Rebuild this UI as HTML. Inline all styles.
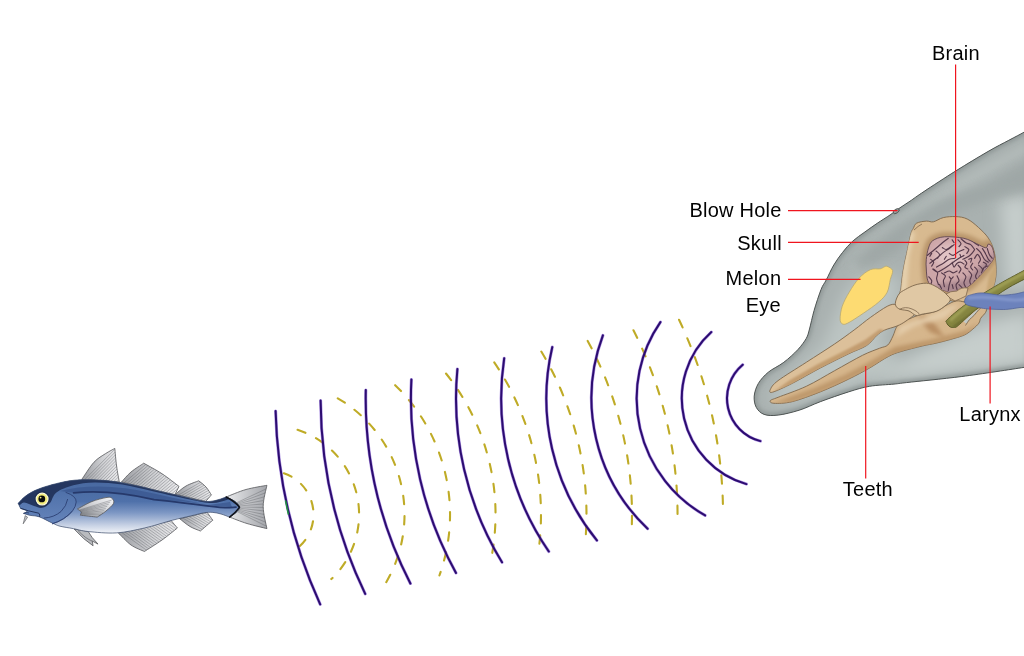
<!DOCTYPE html>
<html><head><meta charset="utf-8"><title>Echolocation</title>
<style>html,body{margin:0;padding:0;background:#fff}svg{display:block}</style></head>
<body><svg width="1024" height="656" viewBox="0 0 1024 656">
<rect width="1024" height="656" fill="#fff"/>
<g fill="none" stroke-linecap="round">
<path d="M283.1 473.0 A43.5 43.5 0 0 1 299.9 546.1 M296.8 429.6 A89.0 89.0 0 0 1 331.3 579.1 M337.1 397.9 A134.5 134.5 0 0 1 382.2 588.7 M394.6 384.6 A180.0 180.0 0 0 1 439.4 575.5 M445.5 372.9 A225.5 225.5 0 0 1 490.1 563.8 M493.8 361.7 A271.0 271.0 0 0 1 538.3 552.6 M540.9 350.9 A316.5 316.5 0 0 1 585.3 541.8 M587.3 340.2 A362.0 362.0 0 0 1 631.6 531.1 M633.1 329.6 A407.5 407.5 0 0 1 677.5 520.5 M678.7 319.1 A453.0 453.0 0 0 1 723.0 510.0" stroke="#bfab26" stroke-width="2.1" stroke-dasharray="8.4 11.85" stroke-dashoffset="-0.8" stroke-linecap="round"/>
<path d="M760.4 441.1 A44.0 44.0 0 0 1 742.7 364.7 M746.4 484.1 A89.2 89.2 0 0 1 711.3 332.1 M705.1 515.4 A134.3 134.3 0 0 1 660.4 322.1 M647.6 528.7 A179.5 179.5 0 0 1 602.9 335.4 M596.9 540.4 A224.6 224.6 0 0 1 552.3 347.1 M548.8 551.5 A269.8 269.8 0 0 1 504.2 358.2 M502.0 562.3 A315.0 315.0 0 0 1 457.4 369.0 M456.0 572.9 A360.1 360.1 0 0 1 411.4 379.6 M410.4 583.5 A405.3 405.3 0 0 1 365.8 390.1 M365.2 593.9 A450.4 450.4 0 0 1 320.6 400.6 M320.2 604.3 A495.6 495.6 0 0 1 275.6 411.0" stroke="#7a4fd0" stroke-width="3.1" opacity=".6"/>
<path d="M760.4 441.1 A44.0 44.0 0 0 1 742.7 364.7 M746.4 484.1 A89.2 89.2 0 0 1 711.3 332.1 M705.1 515.4 A134.3 134.3 0 0 1 660.4 322.1 M647.6 528.7 A179.5 179.5 0 0 1 602.9 335.4 M596.9 540.4 A224.6 224.6 0 0 1 552.3 347.1 M548.8 551.5 A269.8 269.8 0 0 1 504.2 358.2 M502.0 562.3 A315.0 315.0 0 0 1 457.4 369.0 M456.0 572.9 A360.1 360.1 0 0 1 411.4 379.6 M410.4 583.5 A405.3 405.3 0 0 1 365.8 390.1 M365.2 593.9 A450.4 450.4 0 0 1 320.6 400.6 M320.2 604.3 A495.6 495.6 0 0 1 275.6 411.0" stroke="#2c0c70" stroke-width="2.0"/>
<path d="M285.6 501 L288.3 514" stroke="#1f9a3a" stroke-width="1.4"/>
</g>
<defs>
<linearGradient id="fb" x1="0" y1="478" x2="0" y2="534" gradientUnits="userSpaceOnUse"><stop offset="0" stop-color="#48689f"/><stop offset=".42" stop-color="#4f71aa"/><stop offset=".62" stop-color="#7d97c4"/><stop offset=".85" stop-color="#c9d3e5"/><stop offset="1" stop-color="#f6f8fb"/></linearGradient>
<linearGradient id="ff" x1="0" y1="0" x2="1" y2="0"><stop offset="0" stop-color="#989a9f"/><stop offset=".55" stop-color="#cfd0d3"/><stop offset="1" stop-color="#ececee"/></linearGradient>
<linearGradient id="ff2" x1="0" y1="0" x2="1" y2="0"><stop offset="0" stop-color="#e9eaec"/><stop offset="1" stop-color="#a4a6ab"/></linearGradient>
<linearGradient id="fh" x1="0" y1="485" x2="0" y2="525" gradientUnits="userSpaceOnUse"><stop offset="0" stop-color="#4b6da6"/><stop offset="1" stop-color="#6685bb"/></linearGradient>
<linearGradient id="ff3" x1="0" y1="1" x2="1" y2="0"><stop offset="0" stop-color="#97999e"/><stop offset=".6" stop-color="#d9dadd"/><stop offset="1" stop-color="#f4f4f6"/></linearGradient>
<clipPath id="cfb"><path d="M18.2 503.3C19.5 502.1 22.7 498.2 26.0 495.8C29.3 493.4 32.6 491.4 38.1 489.2C43.6 487.0 52.2 484.5 59.2 482.9C66.2 481.3 72.1 480.1 80.3 479.8C88.5 479.5 99.1 479.8 108.5 480.8C117.9 481.8 129.0 484.2 136.6 485.7C144.2 487.2 147.4 488.4 154.0 489.9C160.6 491.4 168.5 493.1 176.2 494.9C183.9 496.7 194.4 499.5 200.0 500.6C205.6 501.7 207.0 501.5 210.0 501.4C213.0 501.3 215.3 500.5 218.0 499.8C220.7 499.1 224.8 497.5 226.1 497.0C227.6 497.8 232.8 499.8 235.0 501.5C237.2 503.2 239.3 505.4 239.5 507.2C239.7 509.0 237.7 510.9 236.0 512.5C234.3 514.1 230.7 516.3 229.6 517.1C228.2 516.6 223.8 514.8 221.0 514.0C218.2 513.2 215.6 512.6 212.8 512.4C210.0 512.2 207.8 512.2 204.0 512.8C200.2 513.4 195.6 514.8 190.3 516.0C185.1 517.2 180.2 518.2 172.5 520.2C164.8 522.2 153.8 525.9 144.4 528.0C135.0 530.1 125.7 532.3 116.3 532.9C106.9 533.5 95.3 532.2 88.1 531.5C80.9 530.8 78.0 529.5 73.3 528.6C68.6 527.7 63.5 527.1 60.0 526.2C56.5 525.3 55.6 524.5 52.2 523.0C48.8 521.5 43.2 518.2 39.5 516.9C35.8 515.6 32.7 515.9 30.0 515.3C27.3 514.7 24.6 513.7 23.5 513.4C24.1 513.0 27.5 511.9 27.0 511.0C26.5 510.1 21.6 508.8 20.5 508.3C20.1 507.5 18.6 504.1 18.2 503.3Z"/></clipPath>
</defs>
<path d="M81.7 479.5C83.8 476.6 90.0 466.5 94.0 462.2C98.0 457.9 102.1 455.9 105.6 453.6C109.1 451.3 113.3 449.3 114.8 448.4C115.1 451.3 115.8 460.4 116.6 466.0C117.3 471.6 118.8 479.3 119.3 482.0C113.0 481.6 88.0 479.9 81.7 479.5Z" fill="url(#ff)" stroke="#55575b" stroke-width=".8" stroke-linejoin="round"/>
<clipPath id="f1"><path d="M81.7 479.5C83.8 476.6 90.0 466.5 94.0 462.2C98.0 457.9 102.1 455.9 105.6 453.6C109.1 451.3 113.3 449.3 114.8 448.4C115.1 451.3 115.8 460.4 116.6 466.0C117.3 471.6 118.8 479.3 119.3 482.0C113.0 481.6 88.0 479.9 81.7 479.5Z"/></clipPath>
<path d="M76.2 488.1 L118.5 445.6 M77.8 489.7 L120.1 447.1 M79.3 491.2 L121.6 448.7 M80.9 492.8 L123.2 450.2 M82.5 494.3 L124.7 451.8 M84.0 495.9 L126.3 453.3 M85.6 497.4 L127.9 454.9 M87.1 499.0 L129.4 456.4 M88.7 500.5 L131.0 458.0 M90.3 502.1 L132.5 459.5 M91.8 503.6 L134.1 461.1 M93.4 505.2 L135.7 462.6" fill="none" stroke="#5c5e63" stroke-width=".55" opacity=".7" clip-path="url(#f1)"/>
<path d="M121.5 482.0C123.1 480.3 127.3 475.1 131.0 472.0C134.7 468.9 141.6 464.7 143.7 463.2C146.8 465.0 156.2 469.9 162.1 473.8C168.0 477.7 176.2 484.3 179.0 486.4C178.3 487.8 175.5 493.6 174.8 495.0C165.9 492.8 130.4 484.2 121.5 482.0Z" fill="url(#ff)" stroke="#55575b" stroke-width=".8" stroke-linejoin="round"/>
<clipPath id="f2"><path d="M121.5 482.0C123.1 480.3 127.3 475.1 131.0 472.0C134.7 468.9 141.6 464.7 143.7 463.2C146.8 465.0 156.2 469.9 162.1 473.8C168.0 477.7 176.2 484.3 179.0 486.4C178.3 487.8 175.5 493.6 174.8 495.0C165.9 492.8 130.4 484.2 121.5 482.0Z"/></clipPath>
<path d="M115.4 490.2 L161.1 451.4 M116.8 492.0 L162.6 453.2 M118.3 493.7 L164.1 455.0 M119.8 495.5 L165.6 456.7 M121.3 497.2 L167.1 458.5 M122.8 499.0 L168.6 460.2 M124.3 500.7 L170.1 462.0 M125.8 502.5 L171.5 463.7 M127.2 504.3 L173.0 465.5 M128.7 506.0 L174.5 467.2 M130.2 507.8 L176.0 469.0 M131.7 509.5 L177.5 470.7 M133.2 511.3 L179.0 472.5 M134.7 513.0 L180.5 474.3 M136.2 514.8 L182.0 476.0 M137.7 516.5 L183.4 477.8 M139.1 518.3 L184.9 479.5 M140.6 520.1 L186.4 481.3" fill="none" stroke="#5c5e63" stroke-width=".55" opacity=".7" clip-path="url(#f2)"/>
<path d="M175.3 494.3C177.1 492.9 182.1 488.2 186.0 486.0C189.9 483.8 196.6 481.7 198.7 480.8C199.9 481.8 203.9 484.6 206.0 487.0C208.1 489.4 210.5 493.6 211.4 494.9C210.4 496.0 206.6 500.4 205.7 501.5C200.6 500.3 180.4 495.5 175.3 494.3Z" fill="url(#ff)" stroke="#55575b" stroke-width=".8" stroke-linejoin="round"/>
<clipPath id="f3"><path d="M175.3 494.3C177.1 492.9 182.1 488.2 186.0 486.0C189.9 483.8 196.6 481.7 198.7 480.8C199.9 481.8 203.9 484.6 206.0 487.0C208.1 489.4 210.5 493.6 211.4 494.9C210.4 496.0 206.6 500.4 205.7 501.5C200.6 500.3 180.4 495.5 175.3 494.3Z"/></clipPath>
<path d="M167.7 501.2 L219.7 471.2 M168.8 503.1 L220.8 473.1 M169.9 505.0 L221.9 475.0 M171.0 506.9 L223.0 476.9 M172.1 508.8 L224.1 478.8 M173.2 510.7 L225.2 480.7 M174.3 512.6 L226.3 482.7 M175.4 514.5 L227.4 484.6 M176.5 516.4 L228.5 486.5 M177.6 518.4 L229.6 488.4" fill="none" stroke="#5c5e63" stroke-width=".55" opacity=".7" clip-path="url(#f3)"/>
<path d="M118.4 533.0C120.5 535.0 126.7 541.9 131.0 545.0C135.3 548.1 142.2 550.4 144.4 551.5C147.3 549.6 156.5 543.9 162.0 540.0C167.5 536.1 174.8 530.0 177.4 528.0C176.3 526.8 172.2 521.8 171.1 520.5C162.3 522.6 127.2 530.9 118.4 533.0Z" fill="url(#ff)" stroke="#55575b" stroke-width=".8" stroke-linejoin="round"/>
<clipPath id="f4"><path d="M118.4 533.0C120.5 535.0 126.7 541.9 131.0 545.0C135.3 548.1 142.2 550.4 144.4 551.5C147.3 549.6 156.5 543.9 162.0 540.0C167.5 536.1 174.8 530.0 177.4 528.0C176.3 526.8 172.2 521.8 171.1 520.5C162.3 522.6 127.2 530.9 118.4 533.0Z"/></clipPath>
<path d="M111.6 525.3 L160.5 560.1 M112.9 523.5 L161.8 558.2 M114.3 521.6 L163.1 556.4 M115.6 519.7 L164.5 554.5 M116.9 517.8 L165.8 552.6 M118.3 516.0 L167.1 550.7 M119.6 514.1 L168.5 548.9 M120.9 512.2 L169.8 547.0 M122.3 510.3 L171.1 545.1 M123.6 508.5 L172.5 543.2 M124.9 506.6 L173.8 541.4 M126.3 504.7 L175.1 539.5 M127.6 502.8 L176.5 537.6 M128.9 501.0 L177.8 535.8 M130.3 499.1 L179.1 533.9 M131.6 497.2 L180.5 532.0 M132.9 495.3 L181.8 530.1 M134.3 493.5 L183.1 528.3" fill="none" stroke="#5c5e63" stroke-width=".55" opacity=".7" clip-path="url(#f4)"/>
<path d="M179.5 518.6C181.2 519.9 186.5 524.4 190.0 526.5C193.5 528.6 198.7 530.2 200.4 531.0C202.5 529.2 210.7 522.0 212.8 520.2C211.8 518.9 208.0 513.5 207.0 512.2C202.4 513.3 184.1 517.5 179.5 518.6Z" fill="url(#ff)" stroke="#55575b" stroke-width=".8" stroke-linejoin="round"/>
<clipPath id="f5"><path d="M179.5 518.6C181.2 519.9 186.5 524.4 190.0 526.5C193.5 528.6 198.7 530.2 200.4 531.0C202.5 529.2 210.7 522.0 212.8 520.2C211.8 518.9 208.0 513.5 207.0 512.2C202.4 513.3 184.1 517.5 179.5 518.6Z"/></clipPath>
<path d="M172.0 511.6 L223.6 542.2 M173.1 509.7 L224.7 540.3 M174.3 507.8 L225.9 538.4 M175.4 505.9 L227.0 536.5 M176.5 504.0 L228.1 534.7 M177.6 502.1 L229.2 532.8 M178.8 500.3 L230.4 530.9 M179.9 498.4 L231.5 529.0 M181.0 496.5 L232.6 527.1 M182.1 494.6 L233.7 525.2" fill="none" stroke="#5c5e63" stroke-width=".55" opacity=".7" clip-path="url(#f5)"/>
<path d="M74.1 529 Q84 540 93.1 545.8 L92.2 541 L98 544.1 Q91 537 88.1 531.3Z" fill="#b9bbbf" stroke="#55575b" stroke-width=".8" stroke-linejoin="round"/>
<path d="M78 530.5 Q86 539 92.2 541" fill="none" stroke="#55575b" stroke-width=".6"/>
<path d="M226.1 497.0C229.4 495.8 239.2 491.4 246.0 489.5C252.8 487.6 263.4 486.0 266.9 485.3C266.3 488.8 263.2 499.3 263.2 506.5C263.2 513.7 266.3 524.9 266.9 528.6C263.6 527.8 253.2 525.4 247.0 523.5C240.8 521.6 232.5 518.2 229.6 517.1C230.7 516.3 234.3 514.1 236.0 512.5C237.7 510.9 239.7 509.0 239.5 507.2C239.3 505.4 237.2 503.2 235.0 501.5C232.8 499.8 227.6 497.8 226.1 497.0Z" fill="url(#ff2)" stroke="#55575b" stroke-width=".8" stroke-linejoin="round"/>
<clipPath id="f6"><path d="M226.1 497.0C229.4 495.8 239.2 491.4 246.0 489.5C252.8 487.6 263.4 486.0 266.9 485.3C266.3 488.8 263.2 499.3 263.2 506.5C263.2 513.7 266.3 524.9 266.9 528.6C263.6 527.8 253.2 525.4 247.0 523.5C240.8 521.6 232.5 518.2 229.6 517.1C230.7 516.3 234.3 514.1 236.0 512.5C237.7 510.9 239.7 509.0 239.5 507.2C239.3 505.4 237.2 503.2 235.0 501.5C232.8 499.8 227.6 497.8 226.1 497.0Z"/></clipPath>
<path d="M236.0 503.0 L268.0 488.0 M236.0 503.8 L268.0 491.9 M236.0 504.6 L268.0 495.8 M236.0 505.4 L268.0 499.7 M236.0 506.2 L268.0 503.6 M236.0 507.0 L268.0 507.5 M236.0 507.8 L268.0 511.4 M236.0 508.6 L268.0 515.3 M236.0 509.4 L268.0 519.2 M236.0 510.2 L268.0 523.1 M236.0 511.0 L268.0 527.0" fill="none" stroke="#5c5e63" stroke-width=".55" opacity=".7" clip-path="url(#f6)"/>
<path d="M25.2 515.6 L23.2 523.8 L27.6 517.2Z" fill="#bfc1c5" stroke="#55575b" stroke-width=".6"/>
<path d="M18.2 503.3C19.5 502.1 22.7 498.2 26.0 495.8C29.3 493.4 32.6 491.4 38.1 489.2C43.6 487.0 52.2 484.5 59.2 482.9C66.2 481.3 72.1 480.1 80.3 479.8C88.5 479.5 99.1 479.8 108.5 480.8C117.9 481.8 129.0 484.2 136.6 485.7C144.2 487.2 147.4 488.4 154.0 489.9C160.6 491.4 168.5 493.1 176.2 494.9C183.9 496.7 194.4 499.5 200.0 500.6C205.6 501.7 207.0 501.5 210.0 501.4C213.0 501.3 215.3 500.5 218.0 499.8C220.7 499.1 224.8 497.5 226.1 497.0C227.6 497.8 232.8 499.8 235.0 501.5C237.2 503.2 239.3 505.4 239.5 507.2C239.7 509.0 237.7 510.9 236.0 512.5C234.3 514.1 230.7 516.3 229.6 517.1C228.2 516.6 223.8 514.8 221.0 514.0C218.2 513.2 215.6 512.6 212.8 512.4C210.0 512.2 207.8 512.2 204.0 512.8C200.2 513.4 195.6 514.8 190.3 516.0C185.1 517.2 180.2 518.2 172.5 520.2C164.8 522.2 153.8 525.9 144.4 528.0C135.0 530.1 125.7 532.3 116.3 532.9C106.9 533.5 95.3 532.2 88.1 531.5C80.9 530.8 78.0 529.5 73.3 528.6C68.6 527.7 63.5 527.1 60.0 526.2C56.5 525.3 55.6 524.5 52.2 523.0C48.8 521.5 43.2 518.2 39.5 516.9C35.8 515.6 32.7 515.9 30.0 515.3C27.3 514.7 24.6 513.7 23.5 513.4C24.1 513.0 27.5 511.9 27.0 511.0C26.5 510.1 21.6 508.8 20.5 508.3C20.1 507.5 18.6 504.1 18.2 503.3Z" fill="url(#fb)"/>
<g clip-path="url(#cfb)">
<path d="M10 470 L66 470 L65.6 492.3 Q76.5 496 76.2 502 Q75.5 511 63.4 518.8 Q58 522 52.2 523.7 L40 535 L10 535Z" fill="url(#fh)"/>
<path d="M16.0 504.0C18.3 509.4 21.0 502.3 24.0 502.6C27.0 502.9 30.9 505.1 34.0 506.0C37.0 506.9 39.6 508.3 42.3 507.8C45.0 507.3 47.6 505.6 50.0 503.0C52.4 500.4 52.5 495.4 56.4 492.5C60.3 489.6 67.0 487.0 73.3 485.3C79.6 483.6 86.2 482.5 94.4 482.4C102.6 482.3 112.6 483.0 122.5 484.5C132.4 486.0 142.8 489.0 154.0 491.5C165.2 494.0 180.3 497.6 190.0 499.5C199.7 501.4 205.7 503.0 212.0 503.0C218.3 503.0 223.3 501.0 228.0 499.5C232.7 498.0 238.0 498.9 240.0 494.0C242.0 489.1 278.3 474.0 240.0 470.0C201.7 466.0 47.3 464.3 10.0 470.0C-27.3 475.7 13.7 498.6 16.0 504.0Z" fill="#24365f"/>
<path d="M60 491 Q100 481 154 493.5 T212 504.5 L230 502 L232 507 Q215 506.5 200 503.5 Q170 500 154 499.6 Q110 489 73.3 492.7 Z" fill="#3c5992" opacity=".85"/>
<path d="M73.6 492.9 Q110 489.2 154 499.7 Q185 503 207 505.8 T236 507.2" fill="none" stroke="#26396b" stroke-width="1.7" stroke-linecap="round"/>
</g>
<path d="M18.2 503.3C19.5 502.1 22.7 498.2 26.0 495.8C29.3 493.4 32.6 491.4 38.1 489.2C43.6 487.0 52.2 484.5 59.2 482.9C66.2 481.3 72.1 480.1 80.3 479.8C88.5 479.5 99.1 479.8 108.5 480.8C117.9 481.8 129.0 484.2 136.6 485.7C144.2 487.2 147.4 488.4 154.0 489.9C160.6 491.4 168.5 493.1 176.2 494.9C183.9 496.7 194.4 499.5 200.0 500.6C205.6 501.7 207.0 501.5 210.0 501.4C213.0 501.3 215.3 500.5 218.0 499.8C220.7 499.1 224.8 497.5 226.1 497.0C227.6 497.8 232.8 499.8 235.0 501.5C237.2 503.2 239.3 505.4 239.5 507.2C239.7 509.0 237.7 510.9 236.0 512.5C234.3 514.1 230.7 516.3 229.6 517.1C228.2 516.6 223.8 514.8 221.0 514.0C218.2 513.2 215.6 512.6 212.8 512.4C210.0 512.2 207.8 512.2 204.0 512.8C200.2 513.4 195.6 514.8 190.3 516.0C185.1 517.2 180.2 518.2 172.5 520.2C164.8 522.2 153.8 525.9 144.4 528.0C135.0 530.1 125.7 532.3 116.3 532.9C106.9 533.5 95.3 532.2 88.1 531.5C80.9 530.8 78.0 529.5 73.3 528.6C68.6 527.7 63.5 527.1 60.0 526.2C56.5 525.3 55.6 524.5 52.2 523.0C48.8 521.5 43.2 518.2 39.5 516.9C35.8 515.6 32.7 515.9 30.0 515.3C27.3 514.7 24.6 513.7 23.5 513.4C24.1 513.0 27.5 511.9 27.0 511.0C26.5 510.1 21.6 508.8 20.5 508.3C20.1 507.5 18.6 504.1 18.2 503.3Z" fill="none" stroke="#3b4a6a" stroke-width=".7"/>
<path d="M226.1 497 Q235 501.5 239.5 507.2 Q236 512.5 229.6 517.1" fill="none" stroke="#0f1118" stroke-width="1.5" stroke-linecap="round"/>
<path d="M65.6 492.3 Q76.5 496 76.2 502 Q75.5 511 63.4 518.8 Q58 522 52.2 523.7" fill="none" stroke="#2c4174" stroke-width=".9"/>
<path d="M67.7 499 Q66.5 506 61 511.5 Q54 517.5 43.8 518.1" fill="none" stroke="#2c4174" stroke-width=".9"/>
<path d="M52 524 Q64 520.5 72.5 511" fill="none" stroke="#2c4174" stroke-width=".7"/>
<path d="M20.5 508.3 Q27 510.8 38.8 513.2 Q40.5 515 39.5 516.9" fill="none" stroke="#22335c" stroke-width="1"/>
<path d="M23.5 513.4 Q27.5 512 29 513" fill="none" stroke="#22335c" stroke-width=".8"/>
<path d="M77.5 508.9C79.9 507.7 87.2 503.4 92.0 501.5C96.8 499.6 102.7 498.2 106.0 497.6C109.3 497.0 110.3 497.1 111.6 498.0C112.9 498.9 114.5 501.1 113.6 503.3C112.7 505.5 108.7 508.7 106.0 511.0C103.3 513.3 98.7 516.1 97.2 517.1C94.4 516.8 83.1 515.5 80.3 515.2C80.5 514.7 81.3 512.5 81.5 512.0C80.8 511.5 78.2 509.4 77.5 508.9Z" fill="url(#ff3)" stroke="#55575b" stroke-width=".8" stroke-linejoin="round"/>
<clipPath id="f7"><path d="M77.5 508.9C79.9 507.7 87.2 503.4 92.0 501.5C96.8 499.6 102.7 498.2 106.0 497.6C109.3 497.0 110.3 497.1 111.6 498.0C112.9 498.9 114.5 501.1 113.6 503.3C112.7 505.5 108.7 508.7 106.0 511.0C103.3 513.3 98.7 516.1 97.2 517.1C94.4 516.8 83.1 515.5 80.3 515.2C80.5 514.7 81.3 512.5 81.5 512.0C80.8 511.5 78.2 509.4 77.5 508.9Z"/></clipPath>
<path d="M79.2 510.1 L111.6 500.1 M79.4 510.7 L110.1 502.2 M79.7 511.3 L108.7 504.3 M79.9 511.9 L107.2 506.4 M80.1 512.6 L105.8 508.6 M80.3 513.2 L104.3 510.7 M80.6 513.8 L102.9 512.8 M80.8 514.4 L101.4 514.9" fill="none" stroke="#5c5e63" stroke-width=".55" opacity=".7" clip-path="url(#f7)"/>
<circle cx="42.1" cy="499.1" r="7.6" fill="#1d2c50"/>
<circle cx="42.1" cy="499.1" r="5.9" fill="#f3ec7a"/>
<circle cx="42.1" cy="499.1" r="5.9" fill="none" stroke="#fbf9d8" stroke-width="1.2"/>
<circle cx="41.8" cy="498.9" r="3.4" fill="#0b0b0b"/>
<circle cx="40.6" cy="497.6" r=".9" fill="#f3ec7a"/>
<defs>
<clipPath id="cb"><path d="M1030.0 128.5C1029.0 129.1 1027.5 130.2 1024.0 132.2C1020.5 134.2 1014.8 137.1 1008.8 140.3C1002.8 143.5 996.8 146.4 988.0 151.5C979.2 156.6 966.7 164.1 956.0 170.8C945.3 177.5 931.7 186.4 924.0 191.5C916.3 196.6 914.2 198.3 910.0 201.2C905.8 204.0 902.1 206.3 898.8 208.6C895.4 210.9 893.5 212.6 890.0 215.0C886.5 217.4 881.7 220.3 877.5 223.1C873.3 225.9 869.2 228.9 865.0 231.9C860.8 234.9 856.2 237.9 852.5 241.3C848.8 244.7 845.6 248.6 842.5 252.5C839.4 256.4 836.5 260.4 833.8 265.0C831.0 269.6 828.4 275.9 826.2 280.0C824.1 284.1 823.1 284.3 821.1 289.4C819.1 294.5 816.0 303.9 814.1 310.5C812.2 317.1 810.8 324.4 809.5 329.0C808.2 333.6 808.2 334.9 806.3 338.4C804.3 341.8 801.5 345.7 797.8 349.7C794.0 353.7 788.7 358.6 783.8 362.3C778.9 366.1 772.5 368.7 768.3 372.2C764.1 375.7 760.8 379.4 758.4 383.4C756.0 387.4 754.6 392.1 754.2 396.1C753.9 400.1 754.6 404.3 756.3 407.4C757.9 410.4 760.5 413.1 764.1 414.4C767.7 415.7 772.2 415.8 778.1 415.1C784.0 414.4 792.2 412.4 799.2 410.2C806.2 408.0 812.1 404.8 820.3 401.7C828.5 398.6 840.3 394.5 848.5 391.9C856.7 389.3 862.0 387.6 869.6 386.3C877.2 385.0 887.9 384.7 894.0 384.1C900.1 383.5 895.1 383.9 906.4 382.6C917.7 381.3 942.2 379.0 961.8 376.5C981.4 374.0 1012.6 369.1 1024.0 367.4C1035.4 365.7 1029.0 366.6 1030.0 366.5Z"/></clipPath>
<clipPath id="cbr"><path d="M926.3 259.3C926.7 255.8 927.4 251.1 928.5 248.0C929.6 244.9 930.1 242.6 932.7 240.7C935.4 238.8 939.2 237.2 944.4 236.8C949.6 236.4 958.5 237.2 963.9 238.3C969.3 239.5 973.0 242.1 976.6 243.7C980.2 245.3 983.9 247.7 985.8 247.8C987.7 247.9 987.2 244.5 988.2 244.2C989.2 243.9 990.6 244.7 991.5 246.0C992.4 247.3 993.2 249.9 993.6 252.0C994.0 254.1 994.6 256.0 993.7 258.3C992.8 260.7 990.2 263.7 988.3 266.1C986.4 268.5 985.3 269.8 982.4 272.9C979.5 276.0 973.8 282.0 970.7 284.6C967.6 287.2 967.0 287.2 963.9 288.5C960.8 289.8 955.5 291.9 952.2 292.2C949.0 292.5 947.6 291.5 944.4 290.5C941.1 289.5 935.5 287.7 932.7 286.1C929.9 284.5 928.9 283.6 927.8 280.7C926.7 277.8 926.5 272.6 926.3 269.0C926.0 265.4 925.9 262.8 926.3 259.3Z"/></clipPath>
<clipPath id="ccr"><path d="M901.0 300.0C897.0 297.5 900.7 292.1 901.1 287.2C901.5 282.2 902.3 275.9 903.2 270.3C904.1 264.7 905.4 259.5 906.7 253.4C908.0 247.3 909.8 237.9 910.9 233.8C912.0 229.7 912.2 230.4 913.2 228.6C914.2 226.8 914.4 224.4 916.6 223.2C918.8 221.9 923.6 221.3 926.4 221.1C929.2 220.9 930.6 222.4 933.4 221.8C936.2 221.2 939.5 218.5 943.3 217.6C947.0 216.7 951.9 216.4 955.9 216.6C959.9 216.8 963.5 217.2 967.2 219.0C971.0 220.8 974.9 224.2 978.4 227.4C981.9 230.6 985.7 234.1 988.3 238.0C990.9 241.9 992.6 245.9 993.9 250.6C995.2 255.3 995.8 261.2 996.0 266.1C996.2 271.0 996.3 275.9 995.3 280.2C994.3 284.5 993.4 288.7 990.0 292.0C986.6 295.3 980.0 298.3 975.0 300.0C970.0 301.7 965.0 302.0 960.0 302.0C955.0 302.0 950.8 300.0 945.0 300.0C939.2 300.0 932.3 302.0 925.0 302.0C917.7 302.0 905.0 302.5 901.0 300.0Z"/></clipPath>
<clipPath id="cma"><path d="M770.4 400.6C771.1 399.6 772.1 399.7 778.1 397.3C784.1 394.9 796.9 390.7 806.3 386.3C815.7 381.9 825.0 376.0 834.4 370.8C843.8 365.6 855.0 359.1 862.5 355.3C870.0 351.6 875.2 350.0 879.4 348.3C883.6 346.6 885.5 347.1 887.8 345.0C890.1 342.9 891.2 339.4 893.0 336.0C894.8 332.6 895.2 327.6 898.5 324.5C901.8 321.4 908.6 319.2 912.5 317.5C916.4 315.8 918.0 315.5 922.0 314.5C926.0 313.5 932.3 312.8 936.3 311.3C940.3 309.8 942.7 307.2 946.0 305.5C949.3 303.8 952.9 301.6 956.0 301.0C959.1 300.4 961.7 301.5 964.4 302.0C967.1 302.5 968.9 303.3 972.0 304.0C975.1 304.7 980.8 305.5 983.2 306.1C985.6 306.7 986.2 306.6 986.6 307.6C987.0 308.7 986.6 310.6 985.6 312.4C984.6 314.2 981.8 316.5 980.7 318.3C979.6 320.1 980.1 321.4 978.8 323.2C977.5 325.0 975.3 327.0 972.9 329.0C970.5 331.0 968.2 333.2 964.4 335.0C960.6 336.8 955.0 338.1 950.3 339.5C945.6 340.9 940.7 342.1 936.0 343.2C931.3 344.3 928.0 344.6 922.2 346.0C916.4 347.4 906.7 349.8 901.1 351.5C895.5 353.2 893.6 353.8 888.4 356.5C883.1 359.2 876.2 364.2 869.6 368.0C863.0 371.8 856.7 375.2 848.5 379.2C840.3 383.2 829.7 388.1 820.3 391.9C810.9 395.6 799.9 399.8 792.2 401.7C784.5 403.6 777.5 403.5 773.9 403.3C770.3 403.1 769.7 401.6 770.4 400.6Z"/></clipPath>
<clipPath id="cur"><path d="M770.4 389.4C771.3 387.5 772.1 385.1 778.1 380.6C784.1 376.1 796.9 368.4 806.3 362.3C815.7 356.2 826.4 349.5 834.4 344.1C842.4 338.7 848.1 334.4 854.1 330.0C860.1 325.6 864.8 321.4 870.3 317.5C875.8 313.6 883.0 308.5 887.2 306.3C891.4 304.1 893.6 304.1 895.6 304.4C897.6 304.7 896.9 307.1 899.0 308.0C901.1 308.9 905.3 309.1 908.0 310.0C910.7 310.9 915.3 311.7 915.0 313.5C914.7 315.3 909.0 318.9 906.0 321.0C903.0 323.1 900.6 324.5 897.0 326.0C893.4 327.5 887.8 328.6 884.4 330.2C881.0 331.8 879.5 333.1 876.6 335.6C873.7 338.2 871.4 342.4 866.7 345.5C862.0 348.6 856.2 350.1 848.5 353.9C840.8 357.6 829.7 363.1 820.3 368.0C810.9 372.9 800.2 379.4 792.2 383.4C784.2 387.4 776.1 391.2 772.5 392.2C768.9 393.2 769.5 391.3 770.4 389.4Z"/></clipPath>
<filter id="b2" filterUnits="userSpaceOnUse" x="700" y="80" width="340" height="360"><feGaussianBlur stdDeviation="2"/></filter>
<filter id="b4" filterUnits="userSpaceOnUse" x="700" y="80" width="340" height="360"><feGaussianBlur stdDeviation="4"/></filter>
<filter id="b8" filterUnits="userSpaceOnUse" x="700" y="80" width="340" height="360"><feGaussianBlur stdDeviation="8"/></filter>
<filter id="b1" filterUnits="userSpaceOnUse" x="700" y="80" width="340" height="360"><feGaussianBlur stdDeviation="1"/></filter>
</defs>
<path d="M1030.0 128.5C1029.0 129.1 1027.5 130.2 1024.0 132.2C1020.5 134.2 1014.8 137.1 1008.8 140.3C1002.8 143.5 996.8 146.4 988.0 151.5C979.2 156.6 966.7 164.1 956.0 170.8C945.3 177.5 931.7 186.4 924.0 191.5C916.3 196.6 914.2 198.3 910.0 201.2C905.8 204.0 902.1 206.3 898.8 208.6C895.4 210.9 893.5 212.6 890.0 215.0C886.5 217.4 881.7 220.3 877.5 223.1C873.3 225.9 869.2 228.9 865.0 231.9C860.8 234.9 856.2 237.9 852.5 241.3C848.8 244.7 845.6 248.6 842.5 252.5C839.4 256.4 836.5 260.4 833.8 265.0C831.0 269.6 828.4 275.9 826.2 280.0C824.1 284.1 823.1 284.3 821.1 289.4C819.1 294.5 816.0 303.9 814.1 310.5C812.2 317.1 810.8 324.4 809.5 329.0C808.2 333.6 808.2 334.9 806.3 338.4C804.3 341.8 801.5 345.7 797.8 349.7C794.0 353.7 788.7 358.6 783.8 362.3C778.9 366.1 772.5 368.7 768.3 372.2C764.1 375.7 760.8 379.4 758.4 383.4C756.0 387.4 754.6 392.1 754.2 396.1C753.9 400.1 754.6 404.3 756.3 407.4C757.9 410.4 760.5 413.1 764.1 414.4C767.7 415.7 772.2 415.8 778.1 415.1C784.0 414.4 792.2 412.4 799.2 410.2C806.2 408.0 812.1 404.8 820.3 401.7C828.5 398.6 840.3 394.5 848.5 391.9C856.7 389.3 862.0 387.6 869.6 386.3C877.2 385.0 887.9 384.7 894.0 384.1C900.1 383.5 895.1 383.9 906.4 382.6C917.7 381.3 942.2 379.0 961.8 376.5C981.4 374.0 1012.6 369.1 1024.0 367.4C1035.4 365.7 1029.0 366.6 1030.0 366.5Z" fill="#a9b1b0"/>
<g clip-path="url(#cb)">
<path d="M862 275 L846 290 L835 315 L822 345 L790 375 L768 395 L775 406 L830 392 L900 372 L1030 355 L1030 330 L960 345 L900 365 L880 340 L898 305 L900 275 Z" fill="#bcc5c3" filter="url(#b8)"/>
<path d="M1030 195 L1000 200 L1004 250 L1006 285 L1030 285Z" fill="#c6cecc" filter="url(#b8)"/>
<path d="M1030 312 L990 322 L930 350 L870 380 L1030 362Z" fill="#c6cecc" filter="url(#b8)"/>
<path d="M1030 146 L993 166 L955 188 L918 212 L890 231 L866 250 L852 268" fill="none" stroke="#b6bebc" stroke-width="7" filter="url(#b4)"/>
<path d="M1030 160 L985 185 L940 200 L900 222 L868 245 L850 262 L862 268 L900 250 L912 232 L950 214 L990 200 L1030 190Z" fill="#99a1a0" filter="url(#b4)" opacity=".6"/>
<path d="M1030.0 128.5C1029.0 129.1 1027.5 130.2 1024.0 132.2C1020.5 134.2 1014.8 137.1 1008.8 140.3C1002.8 143.5 996.8 146.4 988.0 151.5C979.2 156.6 966.7 164.1 956.0 170.8C945.3 177.5 931.7 186.4 924.0 191.5C916.3 196.6 914.2 198.3 910.0 201.2C905.8 204.0 902.1 206.3 898.8 208.6C895.4 210.9 893.5 212.6 890.0 215.0C886.5 217.4 881.7 220.3 877.5 223.1C873.3 225.9 869.2 228.9 865.0 231.9C860.8 234.9 856.2 237.9 852.5 241.3C848.8 244.7 845.6 248.6 842.5 252.5C839.4 256.4 836.5 260.4 833.8 265.0C831.0 269.6 828.4 275.9 826.2 280.0C824.1 284.1 823.1 284.3 821.1 289.4C819.1 294.5 816.0 303.9 814.1 310.5C812.2 317.1 810.8 324.4 809.5 329.0C808.2 333.6 808.2 334.9 806.3 338.4C804.3 341.8 801.5 345.7 797.8 349.7C794.0 353.7 788.7 358.6 783.8 362.3C778.9 366.1 772.5 368.7 768.3 372.2C764.1 375.7 760.8 379.4 758.4 383.4C756.0 387.4 754.6 392.1 754.2 396.1C753.9 400.1 754.6 404.3 756.3 407.4C757.9 410.4 760.5 413.1 764.1 414.4C767.7 415.7 772.2 415.8 778.1 415.1C784.0 414.4 792.2 412.4 799.2 410.2C806.2 408.0 812.1 404.8 820.3 401.7C828.5 398.6 840.3 394.5 848.5 391.9C856.7 389.3 862.0 387.6 869.6 386.3C877.2 385.0 887.9 384.7 894.0 384.1C900.1 383.5 895.1 383.9 906.4 382.6C917.7 381.3 942.2 379.0 961.8 376.5C981.4 374.0 1012.6 369.1 1024.0 367.4C1035.4 365.7 1029.0 366.6 1030.0 366.5Z" fill="none" stroke="#8d9594" stroke-width="5" filter="url(#b2)"/>
</g>
<path d="M1030.0 128.5C1029.0 129.1 1027.5 130.2 1024.0 132.2C1020.5 134.2 1014.8 137.1 1008.8 140.3C1002.8 143.5 996.8 146.4 988.0 151.5C979.2 156.6 966.7 164.1 956.0 170.8C945.3 177.5 931.7 186.4 924.0 191.5C916.3 196.6 914.2 198.3 910.0 201.2C905.8 204.0 902.1 206.3 898.8 208.6C895.4 210.9 893.5 212.6 890.0 215.0C886.5 217.4 881.7 220.3 877.5 223.1C873.3 225.9 869.2 228.9 865.0 231.9C860.8 234.9 856.2 237.9 852.5 241.3C848.8 244.7 845.6 248.6 842.5 252.5C839.4 256.4 836.5 260.4 833.8 265.0C831.0 269.6 828.4 275.9 826.2 280.0C824.1 284.1 823.1 284.3 821.1 289.4C819.1 294.5 816.0 303.9 814.1 310.5C812.2 317.1 810.8 324.4 809.5 329.0C808.2 333.6 808.2 334.9 806.3 338.4C804.3 341.8 801.5 345.7 797.8 349.7C794.0 353.7 788.7 358.6 783.8 362.3C778.9 366.1 772.5 368.7 768.3 372.2C764.1 375.7 760.8 379.4 758.4 383.4C756.0 387.4 754.6 392.1 754.2 396.1C753.9 400.1 754.6 404.3 756.3 407.4C757.9 410.4 760.5 413.1 764.1 414.4C767.7 415.7 772.2 415.8 778.1 415.1C784.0 414.4 792.2 412.4 799.2 410.2C806.2 408.0 812.1 404.8 820.3 401.7C828.5 398.6 840.3 394.5 848.5 391.9C856.7 389.3 862.0 387.6 869.6 386.3C877.2 385.0 887.9 384.7 894.0 384.1C900.1 383.5 895.1 383.9 906.4 382.6C917.7 381.3 942.2 379.0 961.8 376.5C981.4 374.0 1012.6 369.1 1024.0 367.4C1035.4 365.7 1029.0 366.6 1030.0 366.5Z" fill="none" stroke="#4f5554" stroke-width="1"/>
<ellipse cx="896.2" cy="211.2" rx="3.4" ry="1.9" transform="rotate(-33 896.2 211.2)" fill="#959d9c" stroke="#4a504f" stroke-width=".8"/>
<path d="M887.2 266.4C888.6 267.0 892.1 268.3 892.6 270.5C893.1 272.7 891.2 275.9 890.3 279.5C889.4 283.1 889.1 288.4 887.2 292.2C885.3 295.9 882.8 298.5 878.8 302.0C874.8 305.5 868.5 309.8 863.3 313.3C858.1 316.8 851.3 321.4 847.8 323.1C844.3 324.9 843.5 324.5 842.2 323.8C840.9 323.1 840.1 321.8 840.1 318.9C840.1 316.0 840.7 310.8 842.2 306.3C843.7 301.9 846.4 296.9 849.2 292.2C852.0 287.5 855.6 281.9 859.1 278.1C862.6 274.4 866.8 271.2 870.3 269.7C873.8 268.1 877.9 269.3 880.2 268.8C882.6 268.3 883.2 267.2 884.4 266.8C885.6 266.4 885.8 265.8 887.2 266.4Z" fill="#fddb72" stroke="#b9a870" stroke-width=".8"/>
<path d="M901.0 300.0C897.0 297.5 900.7 292.1 901.1 287.2C901.5 282.2 902.3 275.9 903.2 270.3C904.1 264.7 905.4 259.5 906.7 253.4C908.0 247.3 909.8 237.9 910.9 233.8C912.0 229.7 912.2 230.4 913.2 228.6C914.2 226.8 914.4 224.4 916.6 223.2C918.8 221.9 923.6 221.3 926.4 221.1C929.2 220.9 930.6 222.4 933.4 221.8C936.2 221.2 939.5 218.5 943.3 217.6C947.0 216.7 951.9 216.4 955.9 216.6C959.9 216.8 963.5 217.2 967.2 219.0C971.0 220.8 974.9 224.2 978.4 227.4C981.9 230.6 985.7 234.1 988.3 238.0C990.9 241.9 992.6 245.9 993.9 250.6C995.2 255.3 995.8 261.2 996.0 266.1C996.2 271.0 996.3 275.9 995.3 280.2C994.3 284.5 993.4 288.7 990.0 292.0C986.6 295.3 980.0 298.3 975.0 300.0C970.0 301.7 965.0 302.0 960.0 302.0C955.0 302.0 950.8 300.0 945.0 300.0C939.2 300.0 932.3 302.0 925.0 302.0C917.7 302.0 905.0 302.5 901.0 300.0Z" fill="#d8ba90" stroke="#7d664c" stroke-width=".9"/>
<g clip-path="url(#ccr)">
<path d="M926.3 259.3C926.7 255.8 927.4 251.1 928.5 248.0C929.6 244.9 930.1 242.6 932.7 240.7C935.4 238.8 939.2 237.2 944.4 236.8C949.6 236.4 958.5 237.2 963.9 238.3C969.3 239.5 973.0 242.1 976.6 243.7C980.2 245.3 983.9 247.7 985.8 247.8C987.7 247.9 987.2 244.5 988.2 244.2C989.2 243.9 990.6 244.7 991.5 246.0C992.4 247.3 993.2 249.9 993.6 252.0C994.0 254.1 994.6 256.0 993.7 258.3C992.8 260.7 990.2 263.7 988.3 266.1C986.4 268.5 985.3 269.8 982.4 272.9C979.5 276.0 973.8 282.0 970.7 284.6C967.6 287.2 967.0 287.2 963.9 288.5C960.8 289.8 955.5 291.9 952.2 292.2C949.0 292.5 947.6 291.5 944.4 290.5C941.1 289.5 935.5 287.7 932.7 286.1C929.9 284.5 928.9 283.6 927.8 280.7C926.7 277.8 926.5 272.6 926.3 269.0C926.0 265.4 925.9 262.8 926.3 259.3Z" fill="none" stroke="#b8946a" stroke-width="9" filter="url(#b2)"/>
<path d="M903 300 L906 255 L912 232" fill="none" stroke="#e6d2b0" stroke-width="6" filter="url(#b2)"/>
<path d="M989 275 L997 262 L997 300 L985 300Z" fill="#c9a878" filter="url(#b1)"/>
<path d="M914 230 q4 -4 8 -6" fill="none" stroke="#7d664c" stroke-width=".8"/>
</g>
<path d="M926.3 259.3C926.7 255.8 927.4 251.1 928.5 248.0C929.6 244.9 930.1 242.6 932.7 240.7C935.4 238.8 939.2 237.2 944.4 236.8C949.6 236.4 958.5 237.2 963.9 238.3C969.3 239.5 973.0 242.1 976.6 243.7C980.2 245.3 983.9 247.7 985.8 247.8C987.7 247.9 987.2 244.5 988.2 244.2C989.2 243.9 990.6 244.7 991.5 246.0C992.4 247.3 993.2 249.9 993.6 252.0C994.0 254.1 994.6 256.0 993.7 258.3C992.8 260.7 990.2 263.7 988.3 266.1C986.4 268.5 985.3 269.8 982.4 272.9C979.5 276.0 973.8 282.0 970.7 284.6C967.6 287.2 967.0 287.2 963.9 288.5C960.8 289.8 955.5 291.9 952.2 292.2C949.0 292.5 947.6 291.5 944.4 290.5C941.1 289.5 935.5 287.7 932.7 286.1C929.9 284.5 928.9 283.6 927.8 280.7C926.7 277.8 926.5 272.6 926.3 269.0C926.0 265.4 925.9 262.8 926.3 259.3Z" fill="#cda6a8" stroke="#5e4450" stroke-width=".9"/>
<g clip-path="url(#cbr)">
<ellipse cx="950" cy="256" rx="16" ry="12" fill="#e2c4c6" filter="url(#b4)"/>
<path d="M930 290 L960 295 L990 270 L996 250 L985 262 L965 280 L940 284Z" fill="#aa8890" filter="url(#b2)"/>
<path d="M927.3 255.4C928.5 254.4 932.1 251.6 934.6 249.5C937.2 247.4 940.2 244.6 942.4 242.7C944.7 240.8 947.3 239.0 948.3 238.3 M929.8 263.2C930.9 262.4 934.3 260.1 936.6 258.3C938.9 256.5 941.3 254.1 943.4 252.4C945.5 250.8 947.5 249.8 949.3 248.5C951.1 247.2 953.3 245.3 954.1 244.6 M936.6 267.1C937.7 266.4 941.3 264.5 943.4 263.2C945.5 261.9 947.3 260.1 949.3 259.3C951.2 258.5 954.1 258.5 955.1 258.3 M932.7 269.0C933.5 269.5 935.8 272.0 937.6 272.0C939.3 272.0 941.5 270.2 943.4 269.0C945.4 267.9 947.6 266.3 949.3 265.1C950.9 264.0 951.5 263.3 953.2 262.2C954.8 261.1 957.2 259.4 959.0 258.3C960.8 257.2 963.1 255.9 963.9 255.4 M936.1 251.0C936.7 251.5 939.3 253.2 939.5 254.4C939.8 255.6 937.9 257.6 937.6 258.3 M942.4 247.6C943.1 247.9 944.7 249.8 946.3 249.5C948.0 249.2 951.2 246.3 952.2 245.6 M958.0 239.8C958.5 240.4 960.8 242.5 961.0 243.7C961.1 244.8 959.3 246.1 959.0 246.6 M961.0 238.8C961.8 239.4 964.2 241.7 965.9 242.7C967.5 243.7 969.3 243.5 970.7 244.6C972.2 245.8 974.0 248.7 974.6 249.5 M949.3 253.4C949.9 253.7 951.5 255.7 953.2 255.4C954.8 255.0 957.2 252.4 959.0 251.5C960.8 250.5 963.1 249.8 963.9 249.5 M964.9 246.6C965.5 247.1 968.5 248.4 968.8 249.5C969.1 250.7 967.2 252.8 966.8 253.4 M962.9 259.3C963.9 258.8 967.2 257.5 968.8 256.3C970.4 255.2 971.7 253.6 972.7 252.4C973.7 251.3 974.3 250.0 974.6 249.5 M952.2 262.2C952.5 263.0 953.3 266.9 954.1 267.1C955.0 267.2 955.9 264.0 957.1 263.2C958.2 262.4 959.8 262.0 961.0 262.2C962.1 262.4 963.4 263.8 963.9 264.1 M958.0 265.1C958.5 265.8 960.8 267.7 961.0 269.0C961.1 270.3 959.3 272.3 959.0 272.9 M964.9 260.2C965.2 260.7 966.8 262.0 966.8 263.2C966.8 264.3 964.7 266.1 964.9 267.1C965.0 268.0 967.3 268.7 967.8 269.0 M968.8 259.3C969.3 259.1 971.4 257.8 971.7 258.3C972.0 258.8 970.9 261.5 970.7 262.2 M974.6 258.3C975.1 257.6 976.6 254.2 977.6 254.4C978.5 254.6 980.3 257.8 980.5 259.3C980.7 260.7 978.9 262.5 978.5 263.2 M976.6 248.5C977.2 249.2 979.2 250.7 980.5 252.4C981.8 254.2 983.1 257.6 984.4 259.3C985.7 260.9 987.6 261.7 988.3 262.2 M982.4 248.5C982.9 249.3 984.4 251.6 985.4 253.4C986.3 255.2 987.5 258.0 988.3 259.3C989.1 260.6 989.9 260.9 990.2 261.2 M987.3 248.5C987.6 249.5 988.5 252.8 989.3 254.4C990.1 256.0 991.7 257.6 992.2 258.3 M978.5 265.1C979.2 265.8 982.0 267.7 982.4 269.0C982.9 270.3 981.6 272.3 981.5 272.9 M974.6 267.1C975.1 267.7 977.4 269.5 977.6 271.0C977.7 272.4 975.8 274.6 975.6 275.9C975.4 277.2 976.4 278.3 976.6 278.8 M968.8 271.0C969.3 271.6 971.5 273.3 971.7 274.9C971.9 276.5 969.9 279.1 969.8 280.7C969.6 282.4 970.6 284.0 970.7 284.6 M962.9 272.9C963.4 273.6 965.7 275.2 965.9 276.8C966.0 278.5 963.9 280.9 963.9 282.7C963.9 284.5 965.5 286.7 965.9 287.6 M957.1 275.9C957.4 276.7 959.2 279.3 959.0 280.7C958.9 282.2 956.4 283.2 956.1 284.6C955.8 286.1 956.9 288.7 957.1 289.5 M949.3 276.8C949.6 277.2 950.6 278.8 951.2 278.8C951.9 278.8 952.8 277.2 953.2 276.8 M951.2 278.8C950.9 279.8 949.8 282.7 949.3 284.6C948.8 286.6 948.5 289.5 948.3 290.5 M941.5 272.9C942.1 273.4 945.0 274.6 945.4 275.9C945.7 277.2 943.6 278.9 943.4 280.7C943.3 282.5 944.2 285.6 944.4 286.6 M933.7 269.0C934.3 269.7 937.1 271.3 937.6 272.9C938.0 274.6 936.4 276.8 936.6 278.8C936.7 280.7 938.2 283.7 938.5 284.6 M928.8 276.8C929.3 277.5 931.4 279.4 931.7 280.7C932.0 282.0 930.9 284.0 930.7 284.6 M944.4 272.9C945.2 272.6 947.8 271.0 949.3 271.0C950.7 271.0 951.9 272.9 953.2 272.9C954.5 272.9 956.4 271.3 957.1 271.0 M959.0 284.6C959.5 285.1 961.5 287.1 962.0 287.6 M988.3 266.1C987.6 266.3 985.4 266.3 984.4 267.1C983.4 267.9 982.8 270.3 982.4 271.0 M930.7 259.3C931.2 259.8 933.5 261.1 933.7 262.2C933.8 263.3 932.0 265.4 931.7 266.1 M952.2 239.8C952.5 240.2 953.8 242.2 954.1 242.7 M970.7 239.8C971.4 240.2 973.3 241.7 974.6 242.7C975.9 243.7 977.9 245.1 978.5 245.6 M972.7 263.2C972.4 263.8 970.7 265.9 970.7 267.1C970.7 268.2 972.4 269.5 972.7 270.0 M983.4 262.2C983.9 262.5 986.0 263.3 986.3 264.1C986.7 265.0 985.5 266.6 985.4 267.1 M939.5 284.6C939.8 285.3 941.1 287.9 941.5 288.5 M952.2 284.6C952.4 285.3 953.0 287.9 953.2 288.5 M974.6 280.7C974.3 281.4 973.0 284.0 972.7 284.6 M979.5 275.9C979.3 276.3 978.7 278.3 978.5 278.8 M931.7 253.4C931.4 253.9 930.1 255.9 929.8 256.3 M946.3 256.3C946.0 256.8 944.7 258.8 944.4 259.3 M960.0 254.4C960.2 254.9 960.8 256.8 961.0 257.3" fill="none" stroke="#54394a" stroke-width="1.15" stroke-linecap="round" stroke-linejoin="round"/>
</g>
<path d="M770.4 400.6C771.1 399.6 772.1 399.7 778.1 397.3C784.1 394.9 796.9 390.7 806.3 386.3C815.7 381.9 825.0 376.0 834.4 370.8C843.8 365.6 855.0 359.1 862.5 355.3C870.0 351.6 875.2 350.0 879.4 348.3C883.6 346.6 885.5 347.1 887.8 345.0C890.1 342.9 891.2 339.4 893.0 336.0C894.8 332.6 895.2 327.6 898.5 324.5C901.8 321.4 908.6 319.2 912.5 317.5C916.4 315.8 918.0 315.5 922.0 314.5C926.0 313.5 932.3 312.8 936.3 311.3C940.3 309.8 942.7 307.2 946.0 305.5C949.3 303.8 952.9 301.6 956.0 301.0C959.1 300.4 961.7 301.5 964.4 302.0C967.1 302.5 968.9 303.3 972.0 304.0C975.1 304.7 980.8 305.5 983.2 306.1C985.6 306.7 986.2 306.6 986.6 307.6C987.0 308.7 986.6 310.6 985.6 312.4C984.6 314.2 981.8 316.5 980.7 318.3C979.6 320.1 980.1 321.4 978.8 323.2C977.5 325.0 975.3 327.0 972.9 329.0C970.5 331.0 968.2 333.2 964.4 335.0C960.6 336.8 955.0 338.1 950.3 339.5C945.6 340.9 940.7 342.1 936.0 343.2C931.3 344.3 928.0 344.6 922.2 346.0C916.4 347.4 906.7 349.8 901.1 351.5C895.5 353.2 893.6 353.8 888.4 356.5C883.1 359.2 876.2 364.2 869.6 368.0C863.0 371.8 856.7 375.2 848.5 379.2C840.3 383.2 829.7 388.1 820.3 391.9C810.9 395.6 799.9 399.8 792.2 401.7C784.5 403.6 777.5 403.5 773.9 403.3C770.3 403.1 769.7 401.6 770.4 400.6Z" fill="#d6b68c" stroke="#7d664c" stroke-width=".9"/>
<g clip-path="url(#cma)">
<path d="M772 404 L792 402.5 L820 392.5 L848 380 L870 369 L889 357 L920 348 L965 337 L980 322 L965 331 L930 340 L895 347 L868 363 L845 375 L815 388 L790 397Z" fill="#bb9468" filter="url(#b2)"/>
<path d="M918 318 L930 332 L945 338 L935 324 L925 316Z" fill="#b98f63" filter="url(#b2)"/>
<path d="M900 326 L925 317 L950 306 L960 304 L945 318 L915 326 L895 338Z" fill="#e3cba8" filter="url(#b2)"/>
</g>
<path d="M770.4 389.4C771.3 387.5 772.1 385.1 778.1 380.6C784.1 376.1 796.9 368.4 806.3 362.3C815.7 356.2 826.4 349.5 834.4 344.1C842.4 338.7 848.1 334.4 854.1 330.0C860.1 325.6 864.8 321.4 870.3 317.5C875.8 313.6 883.0 308.5 887.2 306.3C891.4 304.1 893.6 304.1 895.6 304.4C897.6 304.7 896.9 307.1 899.0 308.0C901.1 308.9 905.3 309.1 908.0 310.0C910.7 310.9 915.3 311.7 915.0 313.5C914.7 315.3 909.0 318.9 906.0 321.0C903.0 323.1 900.6 324.5 897.0 326.0C893.4 327.5 887.8 328.6 884.4 330.2C881.0 331.8 879.5 333.1 876.6 335.6C873.7 338.2 871.4 342.4 866.7 345.5C862.0 348.6 856.2 350.1 848.5 353.9C840.8 357.6 829.7 363.1 820.3 368.0C810.9 372.9 800.2 379.4 792.2 383.4C784.2 387.4 776.1 391.2 772.5 392.2C768.9 393.2 769.5 391.3 770.4 389.4Z" fill="#dcc09a" stroke="#7d664c" stroke-width=".9"/>
<g clip-path="url(#cur)">
<path d="M772 393 L792 384.5 L820 369 L848 355 L867 346.5 L877 336.5 L885 331 L880 329 L865 340 L846 350 L818 364 L790 380Z" fill="#c29c70" filter="url(#b1)"/>
</g>
<path d="M895.5 302.0C895.9 299.8 897.4 296.1 899.0 294.0C900.6 291.9 902.6 291.0 905.3 289.5C908.0 288.0 911.5 286.1 915.0 285.0C918.5 283.9 923.2 283.1 926.4 283.2C929.6 283.3 931.6 284.4 934.0 285.5C936.4 286.6 938.5 288.1 940.5 289.5C942.5 290.9 944.5 292.2 946.1 293.8C947.7 295.4 950.3 297.5 950.3 299.4C950.3 301.3 948.4 303.0 946.1 305.0C943.8 307.0 940.3 309.8 936.3 311.3C932.3 312.8 925.6 313.5 922.2 314.2C918.8 314.9 918.2 316.0 916.0 315.5C913.8 315.0 911.5 312.0 909.0 311.0C906.5 310.0 903.1 310.2 901.0 309.5C898.9 308.8 897.4 308.2 896.5 307.0C895.6 305.8 895.1 304.2 895.5 302.0Z" fill="#e0c8a4" stroke="#7d664c" stroke-width=".9"/>
<path d="M899.5 309.5 Q905 306 912 309 T919 314.5" fill="none" stroke="#7d664c" stroke-width=".8"/>
<path d="M946 294 Q950 291 957 291 Q961 287 968 288 L966 296 Q960 299 955 301 Q950 299 946 294Z" fill="#dcc09a" stroke="#7d664c" stroke-width=".8"/>
<clipPath id="ctu"><path d="M946.6 322.8C946.2 321.6 944.7 322.2 947.6 319.3C950.5 316.4 958.0 310.0 964.1 305.6C970.2 301.2 977.5 297.1 984.1 293.0C990.8 288.9 996.4 285.6 1004.0 281.3C1011.6 277.0 1025.7 269.6 1030.0 267.3C1030.0 268.8 1030.0 274.8 1030.0 276.3C1026.7 278.1 1015.8 283.4 1010.0 286.8C1004.2 290.2 1000.7 292.7 995.0 296.5C989.3 300.3 982.0 305.0 975.9 309.8C969.8 314.6 961.9 322.5 958.3 325.4C954.7 328.3 955.9 327.2 954.5 327.4C953.1 327.6 951.3 327.6 950.0 326.8C948.7 326.0 947.0 324.1 946.6 322.8Z"/></clipPath>
<path d="M946.6 322.8C946.2 321.6 944.7 322.2 947.6 319.3C950.5 316.4 958.0 310.0 964.1 305.6C970.2 301.2 977.5 297.1 984.1 293.0C990.8 288.9 996.4 285.6 1004.0 281.3C1011.6 277.0 1025.7 269.6 1030.0 267.3C1030.0 268.8 1030.0 274.8 1030.0 276.3C1026.7 278.1 1015.8 283.4 1010.0 286.8C1004.2 290.2 1000.7 292.7 995.0 296.5C989.3 300.3 982.0 305.0 975.9 309.8C969.8 314.6 961.9 322.5 958.3 325.4C954.7 328.3 955.9 327.2 954.5 327.4C953.1 327.6 951.3 327.6 950.0 326.8C948.7 326.0 947.0 324.1 946.6 322.8Z" fill="#858540" stroke="#5a5b29" stroke-width="1"/>
<g clip-path="url(#ctu)"><path d="M950 320.5 L966 306.5 L985 294.5 L1005 283 L1030 270" fill="none" stroke="#a0a056" stroke-width="3.2" filter="url(#b1)"/><path d="M953 327.5 L975 311.5 L996 298.5 L1030 279" fill="none" stroke="#6a6b30" stroke-width="2.4" filter="url(#b1)"/></g>
<path d="M963.5 321.5 L976.5 310 L979.5 309.3 L974.2 315.6 L969.7 319.6 L966.5 323.8Z" fill="#c3cac8"/>
<path d="M965.5 325.5C966.2 324.5 968.1 321.2 969.5 319.6C970.9 318.0 972.4 317.2 973.9 315.6C975.4 314.0 977.2 311.3 978.8 309.7C980.3 308.1 982.5 306.7 983.2 306.1" fill="none" stroke="#7d664c" stroke-width=".9"/>
<path d="M964.6 300.7C964.7 299.7 965.3 298.4 966.0 297.5C966.7 296.6 966.4 296.2 969.0 295.4C971.6 294.6 976.4 292.9 981.7 292.9C987.0 292.9 995.5 295.0 1001.0 295.2C1006.5 295.4 1010.2 294.5 1015.0 294.0C1019.8 293.5 1027.5 290.0 1030.0 292.0C1032.5 294.0 1031.7 303.4 1030.0 306.0C1028.3 308.6 1023.3 307.0 1020.0 307.5C1016.7 308.0 1012.8 308.7 1010.0 309.0C1007.2 309.3 1006.8 309.5 1003.2 309.5C999.6 309.5 992.6 309.3 988.5 309.0C984.4 308.7 982.0 308.2 978.8 307.6C975.5 307.0 971.2 306.3 969.0 305.6C966.8 304.9 966.0 304.4 965.3 303.6C964.6 302.8 964.5 301.7 964.6 300.7Z" fill="#6c82bc" stroke="#52639a" stroke-width=".8"/>
<path d="M968 298 Q985 296 1003 299 T1030 297" fill="none" stroke="#8397cc" stroke-width="3" filter="url(#b1)"/>
<g stroke="#f0141e" stroke-width="1.2" fill="none">
<path d="M955.6 64.5V258"/><path d="M788 210.6H897.5"/><path d="M788 242.3H918.7"/><path d="M788 279.3H860.5"/><path d="M990.1 306.5V403.5"/><path d="M865.7 366V478.5"/>
</g>
<g font-family="'Liberation Sans',Arial,sans-serif" font-size="20" letter-spacing=".25" fill="#000" opacity=".99">
<text x="781.7" y="217" text-anchor="end">Blow Hole</text>
<text x="781.9" y="249.8" text-anchor="end">Skull</text>
<text x="781.3" y="285" text-anchor="end">Melon</text>
<text x="781" y="312" text-anchor="end">Eye</text>
<text x="932" y="60">Brain</text>
<text x="959.3" y="421">Larynx</text>
<text x="842.8" y="496">Teeth</text>
</g>
</svg></body></html>
